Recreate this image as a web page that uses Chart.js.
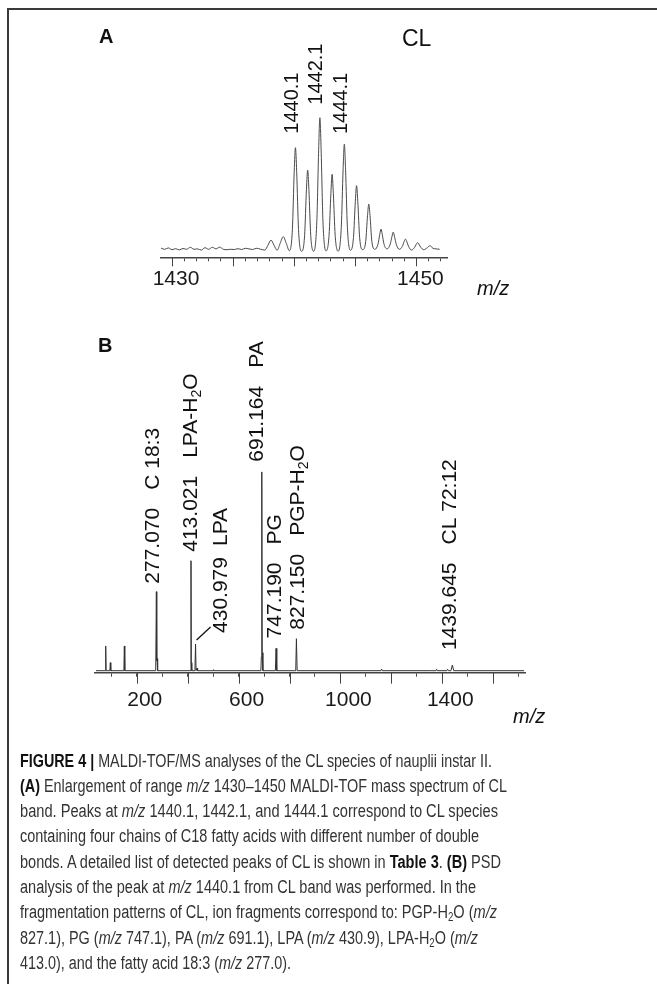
<!DOCTYPE html>
<html><head><meta charset="utf-8">
<script src="https://cdn.jsdelivr.net/npm/chart.js@4.4.0/dist/chart.umd.min.js"></script>
<style>
html,body{margin:0;padding:0;background:#fff;}
body{width:657px;height:984px;position:relative;overflow:hidden;font-family:"Liberation Sans",Arial,sans-serif;}
.abs{position:absolute;white-space:nowrap;line-height:1;}
.cap{position:absolute;left:20px;white-space:nowrap;font-size:18px;line-height:20px;color:#333;transform-origin:0 0;}
.cap b{color:#111;}
.cap .sub{font-size:12px;line-height:0;vertical-align:-3px;}
</style></head><body>
<div class="abs" style="left:7px;top:8px;width:650px;height:2px;background:#3a3a3a"></div>
<div class="abs" style="left:7px;top:8px;width:2px;height:976px;background:#3a3a3a"></div>

<canvas id="cA" width="657" height="320" style="position:absolute;left:0;top:0"></canvas>
<canvas id="cB" width="657" height="440" style="position:absolute;left:0;top:320px"></canvas>

<div class="abs" style="left:99px;top:26px;font-size:20px;font-weight:bold;color:#111">A</div>
<div class="abs" style="left:402px;top:27px;font-size:23px;color:#111">CL</div>
<div class="abs" style="left:477px;top:278px;font-size:20px;font-style:italic;color:#111">m/z</div>
<div class="abs" style="left:98px;top:335px;font-size:20px;font-weight:bold;color:#111">B</div>
<div class="abs" style="left:513px;top:706px;font-size:20px;font-style:italic;color:#111">m/z</div>

<div class="cap" data-w="472"><b>FIGURE 4 |</b> MALDI-TOF/MS analyses of the CL species of nauplii instar II.</div>
<div class="cap" data-w="487"><b>(A)</b> Enlargement of range <i>m/z</i> 1430–1450 MALDI-TOF mass spectrum of CL</div>
<div class="cap" data-w="478">band. Peaks at <i>m/z</i> 1440.1, 1442.1, and 1444.1 correspond to CL species</div>
<div class="cap" data-w="459">containing four chains of C18 fatty acids with different number of double</div>
<div class="cap" data-w="481">bonds. A detailed list of detected peaks of CL is shown in <b>Table 3</b>. <b>(B)</b> PSD</div>
<div class="cap" data-w="456">analysis of the peak at <i>m/z</i> 1440.1 from CL band was performed. In the</div>
<div class="cap" data-w="477">fragmentation patterns of CL, ion fragments correspond to: PGP-H<span class="sub">2</span>O (<i>m/z</i></div>
<div class="cap" data-w="458">827.1), PG (<i>m/z</i> 747.1), PA (<i>m/z</i> 691.1), LPA (<i>m/z</i> 430.9), LPA-H<span class="sub">2</span>O (<i>m/z</i></div>
<div class="cap" data-w="271">413.0), and the fatty acid 18:3 (<i>m/z</i> 277.0).</div>

<script>
// ---------------- DATA ----------------
// Panel A: enlarged CL region (m/z vs relative intensity)
const mzA = [1429.1,1429.4,1429.7,1430.0,1430.3,1430.6,1430.9,1431.2,1431.5,1431.8,1432.1,1432.4,1432.7,1433.0,1433.3,1433.6,1433.9,1434.2,1434.5,1434.8,1435.1,1435.4,1435.7,1436.0,1436.3,1436.6,1436.9,
  1437.6,1437.85,1438.1,1438.35,1438.6,1438.85,1439.1,1439.35,
  1439.6,1439.85,1440.0,1440.1,1440.2,1440.35,
  1440.6,1440.85,1441.0,1441.1,1441.2,1441.35,
  1441.6,1441.85,1442.0,1442.1,1442.2,1442.35,
  1442.6,1442.85,1443.0,1443.1,1443.2,1443.35,
  1443.6,1443.85,1444.0,1444.1,1444.2,1444.35,
  1444.6,1444.85,1445.0,1445.1,1445.2,1445.35,
  1445.6,1445.85,1446.0,1446.1,1446.2,1446.35,
  1446.6,1446.85,1447.0,1447.1,1447.2,1447.35,
  1447.6,1447.85,1448.0,1448.1,1448.2,1448.35,
  1448.6,1448.85,1449.0,1449.1,1449.2,1449.35,
  1449.6,1449.85,1450.1,1450.35,1450.6,1450.85,1451.1,1451.35,1451.6,1451.9];
const intA = [4.6,4.0,4.7,3.8,4.3,3.7,4.4,4.0,5.0,4.0,4.2,3.6,4.8,4.0,5.0,4.2,5.1,4.0,3.8,4.0,3.9,4.3,3.9,4.5,4.2,3.9,4.5,
  3.6,6.0,8.6,6.0,3.5,7.0,10.3,7.0,
  3.3,14,43,54.8,43,14,
  3.0,11,34,43.6,34,11,
  3.0,18,54,69.8,54,18,
  3.2,11,32,41.5,32,11,
  3.0,15,44,56.6,44,15,
  3.5,10,28,35.8,28,10,
  3.8,8,21,26.6,21,8,
  4.0,6.5,11.5,14.1,11.5,6.5,
  4.2,6.5,10.5,12.6,10.5,6.5,
  4.0,5.5,8,9.1,8,5.5,
  3.6,5,7.3,5,3.8,4.6,5.8,4.5,4.2,4.0];
const peakLabelsA = [1440.1, 1442.1, 1444.1];
const tickLabelsA = [1430, 1450];
const majorTicksA = [1430, 1435, 1440, 1445, 1450];

// Panel B: PSD fragment spectrum
const mzB = [40,76.5,78.1,79.7,94.5,96.2,98,149.5,151.2,153,
  274.5,277.070,278.6,279.8,282,
  410.5,413.021,414.3,415.3,417,
  428.5,430.979,433,435.5,437,439,
  500,502,504,
  687.5,689.5,691.164,692.8,695.5,
  744.5,747.190,750,
  824.5,827.150,830,
  1159,1161.8,1164.5,
  1349,1351,1353,1375,1377.6,1380,
  1418,1421,1424,
  1434,1439.645,1445,1721];
const intB = [1.0,1.0,13.3,1.0,1.0,5.0,1.0,1.0,13.3,1.0,
  1.0,40.3,6,7,1.0,
  1.0,55.7,5,4,1.0,
  1.0,14.3,1.0,1.0,2.3,1.0,
  1.0,1.5,1.0,
  1.0,8,100,10,1.0,
  1.0,12.1,1.0,
  1.0,16.9,1.0,
  1.0,1.8,1.0,
  1.0,1.3,1.0,1.0,1.7,1.0,
  1.0,1.7,1.0,
  1.0,3.8,1.0,1.0];
const peakMzB = [277.070, 413.021, 430.979, 691.164, 747.190, 827.150, 1439.645];
const peakNameB = ['C 18:3', 'LPA-H_2O', 'LPA', 'PA', 'PG', 'PGP-H_2O', 'CL 72:12'];
const tickLabelsB = [200, 600, 1000, 1400];
const majorTicksB = [200, 400, 600, 800, 1000, 1200, 1400, 1600];

// ---------------- LAYOUT / STYLE ----------------
const FAMILY = '"Liberation Sans", Arial, sans-serif';
const nudgeA = {1440.1:[-3,-14], 1442.1:[-3,-13], 1444.1:[-3,-10]};
const nudgeB = {277.070:[-3,-8,18], 413.021:[0,-9,18], 430.979:[26,-11,11], 691.164:[-5,-10,18],
                747.190:[-1,-10,18], 827.150:[2,-9,18], 1439.645:[-2,-15,18]};
const leaderB = {430.979:[1,-4,15,-17]};

function toPts(xs, ys){ return xs.map((x,i)=>({x:x, y:ys[i]})); }
function yAt(xs, ys, v){ const i = xs.findIndex(x=>Math.abs(x-v)<1e-6); return ys[i]; }

function parseSegs(t){
  const segs=[]; const re=/_(\d)/g; let last=0, m;
  while((m=re.exec(t))){ if(m.index>last) segs.push({t:t.slice(last,m.index)}); segs.push({t:m[1],sub:true}); last=re.lastIndex; }
  if(last<t.length) segs.push({t:t.slice(last)});
  return segs;
}
function drawRot(ctx, x, y, parts, fs, gap){
  ctx.save(); ctx.translate(x,y); ctx.rotate(-Math.PI/2);
  ctx.textBaseline='middle'; ctx.textAlign='left'; ctx.fillStyle='#111';
  let cx=0;
  parts.forEach((p,pi)=>{
    if(pi>0) cx+=gap;
    parseSegs(p).forEach(s=>{
      const f = s.sub? Math.round(fs*0.68): fs;
      ctx.font = f+'px '+FAMILY;
      ctx.fillText(s.t, cx, s.sub? fs*0.28 : 0);
      cx += ctx.measureText(s.t).width;
    });
  });
  ctx.restore();
}

const annot = {
  id:'annot',
  afterDraw(chart, args, o){
    const ctx=chart.ctx, sx=chart.scales.x, sy=chart.scales.y;
    ctx.save(); ctx.strokeStyle='#444'; ctx.lineWidth=1;
    o.major.forEach(v=>{ const px=Math.round(sx.getPixelForValue(v))+0.5;
      ctx.beginPath(); ctx.moveTo(px, sx.top); ctx.lineTo(px, sx.top+o.majorLen); ctx.stroke(); });
    ctx.restore();
    o.labels.forEach(l=>{
      const px=sx.getPixelForValue(l.x), py=sy.getPixelForValue(l.y);
      if(l.leader){ const L=l.leader; ctx.save(); ctx.strokeStyle='#111'; ctx.lineWidth=1.3;
        ctx.beginPath(); ctx.moveTo(px+L[0],py+L[1]); ctx.lineTo(px+L[2],py+L[3]); ctx.stroke(); ctx.restore(); }
      drawRot(ctx, px+l.dx, py+l.dy, l.parts, o.fs, l.gap||0);
    });
  }
};

function axisX(min,max,step,labels,pad,fs,lo){
  return {type:'linear', min:min, max:max, position:'bottom',
    afterFit(s){ s.height=40; },
    border:{display:true, color:'#444', width:1.5},
    grid:{drawOnChartArea:false, drawTicks:true, tickLength:4, color:'#444', tickColor:'#444', tickWidth:1},
    ticks:{stepSize:step, includeBounds:false, autoSkip:false, maxRotation:0, minRotation:0, padding:pad, labelOffset:lo,
      color:'#1a1a1a', font:{family:FAMILY, size:fs},
      callback:(v)=> labels.includes(v)? String(v) : ''}};
}

// Chart A
new Chart(document.getElementById('cA'), {
  type:'line',
  data:{datasets:[{data:toPts(mzA,intA), borderColor:'#4a4a4a', borderWidth:1, pointRadius:0, fill:false, cubicInterpolationMode:'monotone'}]},
  options:{responsive:false, animation:false, events:[],
    layout:{padding:{left:161, right:210, top:57.3, bottom:22.7}},
    plugins:{legend:{display:false}, tooltip:{enabled:false},
      annot:{fs:20, major:majorTicksA, majorLen:9,
        labels: peakLabelsA.map(m=>({x:m, y:yAt(mzA,intA,m), parts:[m.toFixed(1)], dx:nudgeA[m][0], dy:nudgeA[m][1]}))}},
    scales:{x:axisX(1429.1,1452.5,1,tickLabelsA,5,21,4), y:{display:false, min:0, max:100}}},
  plugins:[annot]
});

// Chart B
new Chart(document.getElementById('cB'), {
  type:'line',
  data:{datasets:[{data:toPts(mzB,intB), borderColor:'#333', borderWidth:1, pointRadius:0, fill:false, tension:0}]},
  options:{responsive:false, animation:false, events:[],
    layout:{padding:{left:95, right:132, top:151.7, bottom:47.3}},
    plugins:{legend:{display:false}, tooltip:{enabled:false},
      annot:{fs:21, major:majorTicksB, majorLen:11,
        labels: peakMzB.map((m,i)=>({x:m, y:yAt(mzB,intB,m), parts:[m.toFixed(3), peakNameB[i]],
          dx:nudgeB[m][0], dy:nudgeB[m][1], gap:nudgeB[m][2], leader:leaderB[m]}))}},
    scales:{x:axisX(36,1725,100,tickLabelsB,11,21,8), y:{display:false, min:0, max:100}}},
  plugins:[annot]
});

// caption lines placement
function layoutCaption(){
  const caps=document.querySelectorAll('.cap');
  caps.forEach((el,i)=>{
    el.style.top=(766.7 + i*25.33 - 16.2)+'px';
    el.style.transform='none';
    const w=el.getBoundingClientRect().width;
    const target=parseFloat(el.dataset.w);
    el.style.transform='scaleX('+(target/w)+')';
  });
}
layoutCaption();
if(document.fonts && document.fonts.ready) document.fonts.ready.then(layoutCaption);
</script>
</body></html>
